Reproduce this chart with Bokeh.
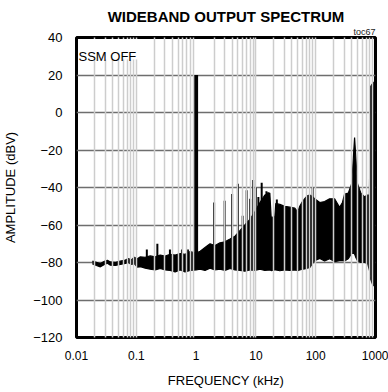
import numpy as np
from bokeh.plotting import figure
from bokeh.models import Title, Label, FixedTicker, BoxAnnotation
from bokeh.embed import file_html
from bokeh.resources import INLINE

# ---------------- data ----------------
freq_khz = [0.0185, 0.0215, 0.0251, 0.0293, 0.0329, 0.0369, 0.0447, 0.0541, 0.0656, 0.0736,
            0.0825, 0.0926, 0.104, 0.117, 0.141, 0.171, 0.207, 0.251, 0.304, 0.369,
            0.447, 0.541, 0.656, 0.794, 1.0, 1.17, 1.41, 1.71, 2.07, 2.51,
            3.04, 3.69, 4.47, 5.41, 6.56, 7.94, 9.62, 11.7, 14.1, 17.1,
            18.0, 20.7, 21.5, 25.1, 30.4, 36.9, 44.7, 50.0, 54.1, 60.0,
            65.6, 72.0, 79.4, 89.0, 96.2, 117.0, 141.0, 171.0, 207.0, 251.0,
            280.0, 304.0, 350.0, 400.0, 430.0, 447.0, 465.0, 500.0, 570.0, 656.0,
            736.0, 790.0, 830.0, 900.0, 1000.0]
upper_dbv = [-79.3, -79.9, -80.6, -79.4, -78.8, -79.7, -79.9, -79.3, -78.7, -77.9,
             -78.6, -77.2, -78.0, -77.0, -77.2, -76.5, -77.0, -76.0, -76.6, -75.6,
             -76.0, -75.2, -75.6, -74.2, -75.0, -74.0, -72.0, -70.0, -71.0, -69.5,
             -69.0, -67.5, -66.0, -63.0, -60.0, -57.0, -53.0, -48.0, -44.0, -43.0,
             -56.0, -55.5, -48.5, -49.0, -50.0, -50.5, -51.0, -53.0, -50.0, -47.5,
             -46.0, -44.5, -44.0, -45.0, -46.0, -48.0, -47.5, -46.0, -46.0, -50.5,
             -48.0, -43.5, -43.0, -38.0, -22.0, -13.3, -22.0, -38.0, -43.0, -45.0,
             -44.0, -44.0, 14.0, 15.5, 17.0]
lower_dbv = [-80.8, -81.6, -82.3, -81.0, -80.4, -81.4, -81.6, -81.0, -80.5, -80.0,
             -81.0, -80.6, -82.5, -82.2, -83.0, -83.6, -84.0, -83.2, -84.0, -84.2,
             -85.0, -84.0, -85.0, -84.2, -84.0, -83.5, -84.2, -83.0, -84.0, -83.5,
             -84.2, -83.2, -84.0, -84.2, -84.6, -84.0, -84.2, -83.6, -84.2, -84.0,
             -84.3, -84.0, -84.0, -84.4, -84.0, -84.2, -84.0, -84.3, -84.0, -83.6,
             -83.4, -83.0, -82.8, -80.5, -79.0, -77.8, -79.2, -78.0, -79.5, -79.0,
             -79.0, -79.2, -78.0, -75.2, -75.0, -75.5, -77.0, -79.0, -80.0, -80.0,
             -80.5, -84.0, -89.0, -92.0, -93.0]

spike_freq_khz = [0.15, 0.225, 0.365, 0.58, 0.73, 1.21, 2.0, 3.0, 4.0, 5.0,
                  6.0, 7.0, 8.0, 9.0, 10.0, 11.0, 12.5, 15.0, 16.0, 22.4, 89.0]
spike_peak_dbv = [-73.0, -70.0, -73.0, -73.0, -73.0, -74.7, -48.0, -47.0, -43.5, -38.0,
                  -55.0, -41.5, -46.0, -36.0, -40.0, -45.0, -37.5, -42.0, -42.5, -46.4, -40.0]

tone_freq_khz = [1.0]
tone_peak_dbv = [20.0]

x_ticks = [0.01, 0.1, 1, 10, 100, 1000]
x_tick_labels = ["0.01", "0.1", "1", "10", "100", "1000"]
y_ticks = [-120, -100, -80, -60, -40, -20, 0, 20, 40]

FONT = "Liberation Sans"

p = figure(width=388, height=392, x_axis_type="log",
           x_range=(0.01, 1000), y_range=(-120, 40),
           output_backend="svg", toolbar_location=None, title=None,
           min_border_left=0, min_border_right=13,
           min_border_top=37, min_border_bottom=55)
p.background_fill_color = "white"
p.border_fill_color = "white"
p.outline_line_color = "black"
p.outline_line_width = 3

# titles
p.add_layout(Title(text="toc67", align="right", text_font=FONT,
                   text_font_size="9px", text_font_style="normal",
                   text_color="#222222", standoff=1), "above")
p.add_layout(Title(text="WIDEBAND OUTPUT SPECTRUM", align="center", text_font=FONT,
                   text_font_size="15px", text_font_style="bold",
                   text_color="black", standoff=0), "above")

# axes
p.xaxis.ticker = FixedTicker(ticks=x_ticks)
p.xaxis.major_label_overrides = {t: l for t, l in zip(x_ticks, x_tick_labels)}
p.yaxis.ticker = FixedTicker(ticks=y_ticks)
for ax in (p.xaxis, p.yaxis):
    ax.axis_line_color = None
    ax.major_tick_line_color = None
    ax.minor_tick_line_color = None
    ax.major_tick_out = 0
    ax.major_tick_in = 0
    ax.minor_tick_out = 0
    ax.minor_tick_in = 0
    ax.major_label_text_font = FONT
    ax.major_label_text_color = "black"
    ax.axis_label_text_font = FONT
    ax.axis_label_text_font_style = "normal"
    ax.axis_label_text_font_size = "13px"
    ax.axis_label_text_color = "black"
p.xaxis.major_label_text_font_size = "12px"
p.yaxis.major_label_text_font_size = "13px"
p.xaxis.major_label_standoff = 13
p.yaxis.major_label_standoff = 14
p.xaxis.axis_label = "FREQUENCY (kHz)"
p.yaxis.axis_label = "AMPLITUDE (dBV)"
p.xaxis.axis_label_standoff = 10
p.yaxis.axis_label_standoff = 12

# invisible spacer on the far left (keeps the axis label off the page edge)
p.add_layout(Title(text=".", text_font=FONT, text_font_size="6px",
                   text_alpha=0.0, standoff=0), "left")

# grids
grid_pos = [d * m for d in (0.01, 0.1, 1, 10, 100) for m in range(1, 10)
            if not (d * m == 1 or d * m == 0.01)]
p.xgrid.ticker = FixedTicker(ticks=grid_pos)
p.xgrid.grid_line_color = "#cdcdcd"
p.xgrid.grid_line_width = 1.5
p.xgrid.minor_grid_line_color = None
p.xgrid.level = "guide"
p.ygrid.ticker = FixedTicker(ticks=y_ticks)
p.ygrid.grid_line_color = "#6e6e6e"
p.ygrid.grid_line_width = 1.5
p.ygrid.minor_grid_line_color = None

# spectrum band
p.varea(x=freq_khz, y1=lower_dbv, y2=upper_dbv, fill_color="black")
p.line(freq_khz, upper_dbv, line_color="black", line_width=1.2)
p.line(freq_khz, lower_dbv, line_color="black", line_width=1.2)

lf = np.log10(freq_khz)
spike_base = np.interp(np.log10(spike_freq_khz), lf, lower_dbv) + 2
p.segment(x0=spike_freq_khz, y0=spike_base, x1=spike_freq_khz, y1=spike_peak_dbv,
          line_color="black", line_width=2)
tone_base = np.interp(np.log10(tone_freq_khz), lf, lower_dbv) + 2
p.segment(x0=tone_freq_khz, y0=tone_base, x1=tone_freq_khz, y1=tone_peak_dbv,
          line_color="black", line_width=4)

# "SSM OFF" label with white backing
p.add_layout(BoxAnnotation(left=0.0106, right=0.12, bottom=28.3, top=39.2,
                           fill_color="white", fill_alpha=1.0, line_color=None))
p.add_layout(Label(x=0.0108, y=29.9, text="SSM OFF", text_font=FONT,
                   text_font_size="13px", text_baseline="alphabetic",
                   text_color="black"))

open("out.html", "w").write(file_html(p, INLINE))
